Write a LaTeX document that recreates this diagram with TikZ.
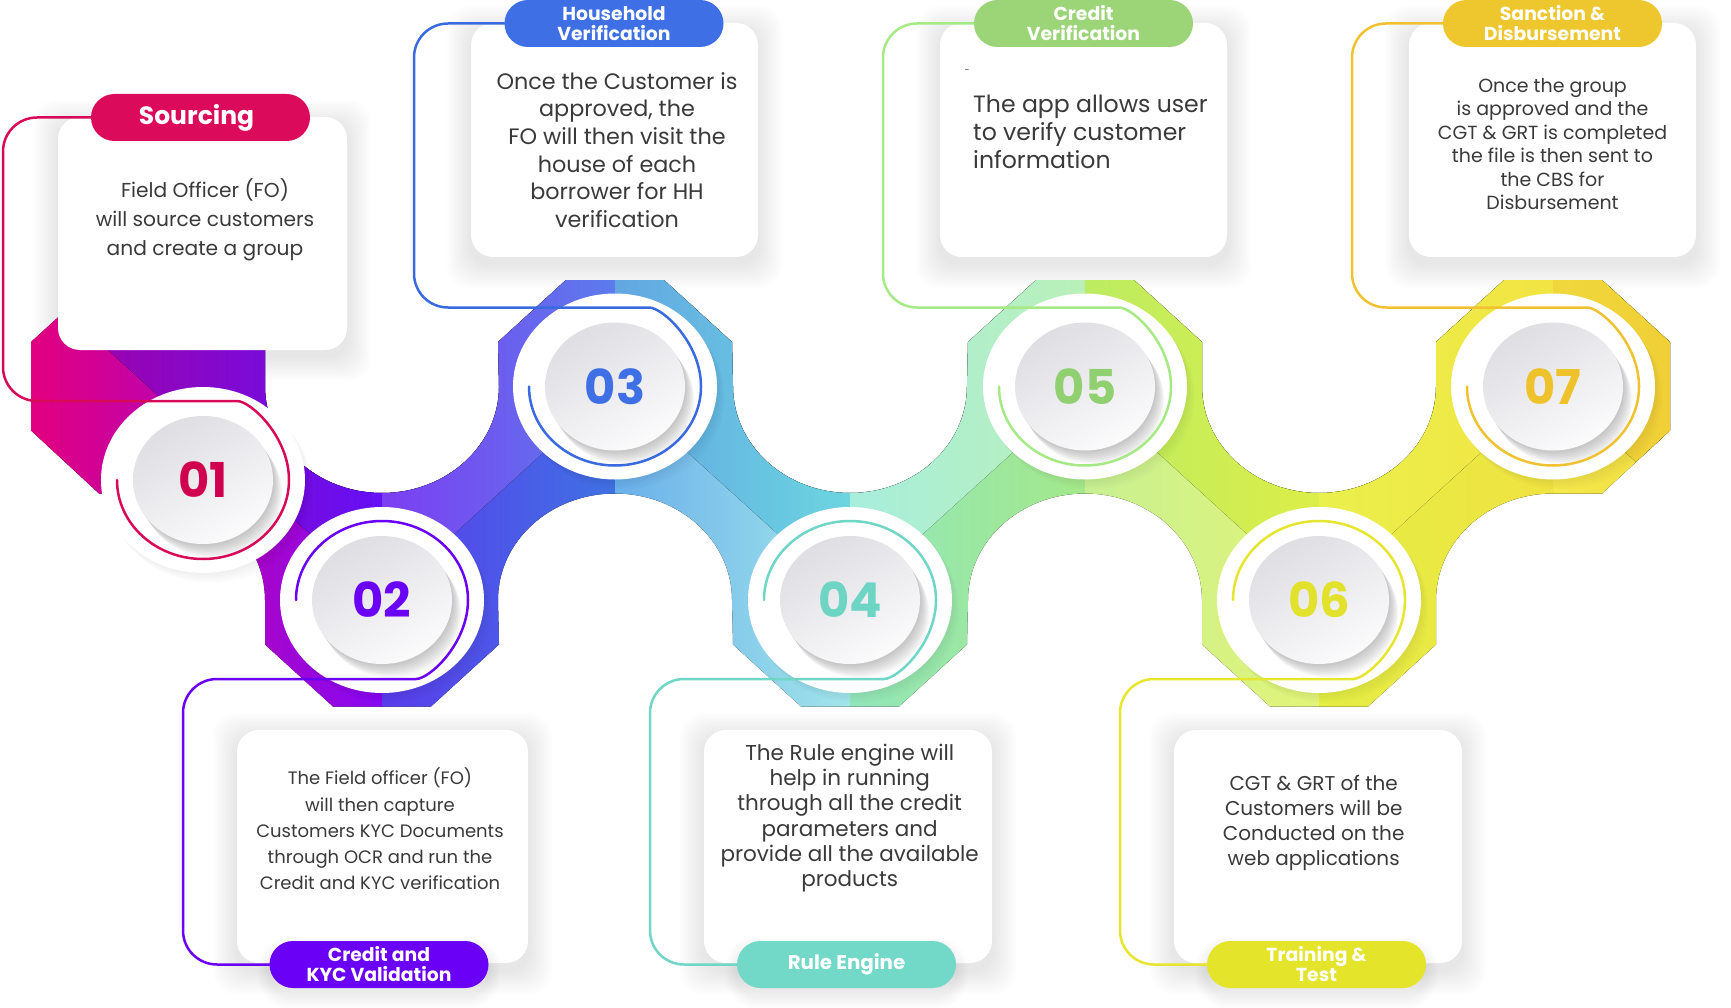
\documentclass[tikz,border=0pt]{standalone}
\usepackage{fontspec}
\setmainfont{Poppins}
\usetikzlibrary{shapes.geometric,calc}

\definecolor{ink}{HTML}{3A3A3A}
\definecolor{discA}{HTML}{DEDEE3}
\definecolor{discB}{HTML}{FBFBFC}
% step colours: pills, connector lines, numbers
\definecolor{cA}{HTML}{DC0A5A}\definecolor{lA}{HTML}{D80A58}\definecolor{nA}{HTML}{D1004E}
\definecolor{cB}{HTML}{6A00F5}\definecolor{lB}{HTML}{6A00F5}\definecolor{nB}{HTML}{6A00F5}
\definecolor{cC}{HTML}{3F6FE4}\definecolor{lC}{HTML}{3A6AE0}\definecolor{nC}{HTML}{3F6FE4}
\definecolor{cD}{HTML}{72D8C8}\definecolor{lD}{HTML}{70D6C6}\definecolor{nD}{HTML}{6ED4C4}
\definecolor{cE}{HTML}{9CD478}\definecolor{lE}{HTML}{A6EA86}\definecolor{nE}{HTML}{90D070}
\definecolor{cF}{HTML}{E4E42A}\definecolor{lF}{HTML}{E6E630}\definecolor{nF}{HTML}{E2E22C}
\definecolor{cG}{HTML}{EEC72E}\definecolor{lG}{HTML}{F0C232}\definecolor{nG}{HTML}{EEC22A}
% ribbon panel colours (u = above the fold line, d = below; L/M/R = left/middle/right)
\definecolor{u1L}{HTML}{A6009E}\definecolor{u1R}{HTML}{6410F6}
\definecolor{d1L}{HTML}{E2007F}\definecolor{d1M}{HTML}{A000DC}\definecolor{d1R}{HTML}{8608F4}
\definecolor{u2L}{HTML}{7C3EF2}\definecolor{u2R}{HTML}{5C7CEC}
\definecolor{d2L}{HTML}{5A3CEC}\definecolor{d2R}{HTML}{3F72E3}
\definecolor{u3L}{HTML}{62A6E2}\definecolor{u3R}{HTML}{6CD6E0}
\definecolor{d3L}{HTML}{6AB0EA}\definecolor{d3R}{HTML}{A2E6EA}
\definecolor{u4L}{HTML}{A8EEDD}\definecolor{u4R}{HTML}{BAF0B8}
\definecolor{d4L}{HTML}{92E6BC}\definecolor{d4R}{HTML}{A4E88A}
\definecolor{u5L}{HTML}{BCEC62}\definecolor{u5R}{HTML}{DCEE48}
\definecolor{d5L}{HTML}{C8F092}\definecolor{d5R}{HTML}{E2F478}
\definecolor{u6L}{HTML}{EAF04C}\definecolor{u6R}{HTML}{F2E442}
\definecolor{d6L}{HTML}{E4EE44}\definecolor{d6R}{HTML}{F0E242}
\definecolor{u7L}{HTML}{F0D83C}\definecolor{u7R}{HTML}{F0CE36}
\definecolor{d7L}{HTML}{F4E84C}\definecolor{d7R}{HTML}{F2DC40}

\pgfdeclarelayer{base}
\pgfdeclarelayer{mid}
\pgfdeclarelayer{wire}
\pgfsetlayers{base,mid,wire,main}

% soft shadow under a card: centre x, centre y, width, height
\newcommand\cardshade[4]{%
  \foreach \s in {1,...,12}{%
    \fill[black,opacity=0.0065,rounded corners=22]
      ({#1-#3/2-2*\s},{#2-#4/2-2*\s+7}) rectangle ({#1+#3/2+2*\s},{#2+#4/2+2*\s+7});}}
% shadow cast by a number disc
\newcommand\discshade[2]{%
  \foreach \s in {1,...,7}{%
    \fill[black!60,opacity=0.06] ({#1+1.3*\s},{#2+1.9*\s}) ellipse [x radius=70, y radius=64];}}
% faint shadow round a white ring
\newcommand\ringshade[2]{%
  \foreach \s in {1,...,5}{%
    \fill[black,opacity=0.01] ({#1+1.5*\s},{#2+2*\s}) ellipse [x radius=102, y radius=93];}}
% one panel of the ribbon below the fold line (full strip) : x0, x1, left colour, right colour
\newcommand\lowpanel[4]{\fill[left color=#3, right color=#4] (#1,250) rectangle ({#2+1},730);}

\begin{document}
\begin{tikzpicture}[x=1pt,y=-1pt,
  pill/.style={rectangle, rounded corners=23.5, minimum width=219, minimum height=47,
    inner sep=0, text=white, align=center, font=\fontsize{18.8}{20}\selectfont\bfseries},
  card/.style={rectangle, rounded corners=22, fill=white, inner sep=0},
  disc/.style={ellipse, minimum width=140, minimum height=128, inner sep=0,
    top color=discA, bottom color=discB, shading angle=30,
    font=\fontsize{48}{48}\selectfont\bfseries},
  ring/.style={fill=white},
  body/.style={text=ink, align=center, inner sep=0},
  brk/.style={line width=2.5pt, line cap=round},
]
\useasboundingbox (0,0) rectangle (1731,1008);

\begin{pgfonlayer}{base}
\fill[white] (0,0) rectangle (1731,1008);
% card shadows
\cardshade{202.5}{233.5}{289}{233}
\cardshade{614.5}{140}{287}{234}
\cardshade{1083.5}{140}{287}{234}
\cardshade{1552.5}{140}{287}{234}
\cardshade{382.5}{846.5}{291}{233}
\cardshade{848}{846.5}{288}{233}
\cardshade{1318}{846.5}{288}{233}

% the folded ribbon: octagon ends and round bays
\begin{scope}
\clip (31,386.5) -- (31,342) -- (99,280) -- (197,280) -- (265,342) -- (265,386.5)
  arc [start angle=180, end angle=0, x radius=117, y radius=106.5]
  -- (498,342) -- (566,280) -- (664,280) -- (732,342) -- (733,386.5)
  arc [start angle=180, end angle=0, x radius=117, y radius=106.5]
  -- (968,342) -- (1036,280) -- (1134,280) -- (1202,342) -- (1202,386.5)
  arc [start angle=180, end angle=0, x radius=117, y radius=106.5]
  -- (1436,342) -- (1504,280) -- (1602,280) -- (1670,342) -- (1670,430.5)
  -- (1602,493.5) -- (1553,493.5)
  arc [start angle=-90, end angle=-180, x radius=117, y radius=106.5]
  -- (1436,644.5) -- (1368,706.5) -- (1270,706.5) -- (1202,644.5) -- (1202,600)
  arc [start angle=0, end angle=-180, x radius=117, y radius=106.5]
  -- (967,644.5) -- (899,706.5) -- (801,706.5) -- (733,644.5) -- (732,600)
  arc [start angle=0, end angle=-180, x radius=117, y radius=106.5]
  -- (499,644.5) -- (431,706.5) -- (333,706.5) -- (265,644.5) -- (265,600)
  arc [start angle=0, end angle=-90, x radius=117, y radius=106.5]
  -- (99,493.5) -- (31,430.5) -- cycle;
% lower fold panels (full strips)
\fill[left color=d1L, middle color=d1M, right color=d1R] (31,250) rectangle (383,730);
\lowpanel{382}{615}{d2L}{d2R}
\lowpanel{615}{850}{d3L}{d3R}
\lowpanel{850}{1085}{d4L}{d4R}
\lowpanel{1085}{1319}{d5L}{d5R}
\lowpanel{1319}{1553}{d6L}{d6R}
\lowpanel{1553}{1680}{d7L}{d7R}
% upper fold panels, above the line joining neighbouring steps
\fill[left color=u1L, right color=u1R] (31,250) -- (382.5,250) -- (382.5,600) -- (31,279.8) -- cycle;
\fill[left color=u2L, right color=u2R] (382,250) -- (615.5,250) -- (615.5,386.5) -- (382,600) -- cycle;
\fill[left color=u3L, right color=u3R] (615,250) -- (850.5,250) -- (850.5,600) -- (615,386.5) -- cycle;
\fill[left color=u4L, right color=u4R] (850,250) -- (1085.5,250) -- (1085.5,386.5) -- (850,600) -- cycle;
\fill[left color=u5L, right color=u5R] (1085,250) -- (1319.5,250) -- (1319.5,600) -- (1085,386.5) -- cycle;
\fill[left color=u6L, right color=u6R] (1319,250) -- (1553.5,250) -- (1553.5,386.5) -- (1319,600) -- cycle;
\fill[left color=u7L, right color=u7R] (1553,250) -- (1680,250) -- (1680,502) -- (1553,386.5) -- cycle;
\end{scope}
\end{pgfonlayer}

\begin{pgfonlayer}{mid}
% white rings and number discs
\foreach \cx/\cy in {203/480,382/600,615/386.5,850/600,1085/386.5,1319/600,1553/386.5}{%
  \ringshade{\cx}{\cy}
  \fill[ring] (\cx,\cy) ellipse [x radius=102, y radius=93];
  \discshade{\cx}{\cy}}
\node[disc, text=nA] (n1) at (203,480) {01};
\node[disc, text=nB] (n2) at (382,600) {02};
\node[disc, text=nC] (n3) at (615,386.5) {03};
\node[disc, text=nD] (n4) at (850,600) {04};
\node[disc, text=nE] (n5) at (1085,386.5) {05};
\node[disc, text=nF] (n6) at (1319,600) {06};
\node[disc, text=nG] (n7) at (1553,386.5) {07};

% text cards
\node[card, minimum width=289, minimum height=233] (k1) at (202.5,233.5) {};
\node[card, minimum width=287, minimum height=234] (k3) at (614.5,140) {};
\node[card, minimum width=287, minimum height=234] (k5) at (1083.5,140) {};
\node[card, minimum width=287, minimum height=234] (k7) at (1552.5,140) {};
\node[card, minimum width=291, minimum height=233] (k2) at (382.5,846.5) {};
\node[card, minimum width=288, minimum height=233] (k4) at (848,846.5) {};
\node[card, minimum width=288, minimum height=233] (k6) at (1318,846.5) {};

\node[body, font=\fontsize{20.2}{29}\selectfont] (t1) at (205,220)
  {Field Officer (FO)\\will source customers\\and create a group};
\node[body, font=\fontsize{22.3}{27.7}\selectfont] (t3) at (617,150)
  {Once the Customer is\\approved, the\\FO will then visit the\\house of each\\borrower for HH\\verification};
\node[body, align=left, anchor=north west, font=\fontsize{23.6}{28}\selectfont] (t5) at (973,95)
  {The app allows user\\to verify customer\\information};
\node[text=ink, inner sep=0, font=\fontsize{9}{9}\selectfont] (m5) at (967,72) {-};
\node[body, font=\fontsize{19}{23.5}\selectfont] (t7) at (1552.5,144)
  {Once the group\\is approved and the\\CGT \& GRT is completed\\the file is then sent to\\the CBS for\\Disbursement};
\node[body, font=\fontsize{18}{26.2}\selectfont] (t2) at (380,829)
  {The Field officer (FO)\\will then capture\\Customers KYC Documents\\through OCR and run the\\Credit and KYC verification};
\node[body, font=\fontsize{21.5}{25.3}\selectfont] (t4) at (849.7,818)
  {The Rule engine will\\help in running\\through all the credit\\parameters and\\provide all the available\\products};
\node[body, font=\fontsize{20}{25}\selectfont] (t6) at (1313.7,823)
  {CGT \& GRT of the\\Customers will be\\Conducted on the\\web applications};

% pill shadows (lower row)
\foreach \px in {379,846.5,1316.5}{%
  \foreach \s in {1,...,8}{%
    \fill[black,opacity=0.008,rounded corners=23.5+\s]
      ({\px-109.5-1.5*\s},{941-1.5*\s+8}) rectangle ({\px+109.5+1.5*\s},{988+1.5*\s+8});}}
\end{pgfonlayer}

% step titles
\node[pill, fill=cA, font=\fontsize{25}{25}\selectfont\bfseries] (p1) at (200.5,117.5) {\kern-8pt Sourcing};
\node[pill, fill=cC] (p3) at (614,23.5) {Household\\Verification};
\node[pill, fill=cE] (p5) at (1083.5,23.5) {Credit\\Verification};
\node[pill, fill=cG] (p7) at (1552.5,23.5) {Sanction \&\\Disbursement};
\node[pill, fill=cB] (p2) at (379,964.5) {Credit and\\KYC Validation};
\node[pill, fill=cD, font=\fontsize{19.8}{20}\selectfont\bfseries] (p4) at (846.5,964.5) {Rule Engine};
\node[pill, fill=cF] (p6) at (1316.5,964.5) {Training \&\\Test};

% connectors from each title round its number
\begin{pgfonlayer}{wire}
\draw[brk, draw=lA] (p1.west) [rounded corners=34] -| ($(n1)+(-200,-79)$) -- ($(n1)+(0,-79)$)
  [sharp corners] arc [start angle=-90, end angle=180, x radius=86, y radius=79];
\draw[brk, draw=lC] (p3.west) [rounded corners=34] -| ($(n3)+(-201,-79)$) -- ($(n3)+(0,-79)$)
  [sharp corners] arc [start angle=-90, end angle=180, x radius=86, y radius=79];
\draw[brk, draw=lE] (p5.west) [rounded corners=34] -| ($(n5)+(-202,-79)$) -- ($(n5)+(0,-79)$)
  [sharp corners] arc [start angle=-90, end angle=180, x radius=86, y radius=79];
\draw[brk, draw=lG] (p7.west) [rounded corners=34] -| ($(n7)+(-201,-79)$) -- ($(n7)+(0,-79)$)
  [sharp corners] arc [start angle=-90, end angle=180, x radius=86, y radius=79];
\draw[brk, draw=lB] (p2.west) [rounded corners=34] -| ($(n2)+(-199,79)$) -- ($(n2)+(0,79)$)
  [sharp corners] arc [start angle=90, end angle=-180, x radius=86, y radius=79];
\draw[brk, draw=lD] (p4.west) [rounded corners=34] -| ($(n4)+(-200,79)$) -- ($(n4)+(0,79)$)
  [sharp corners] arc [start angle=90, end angle=-180, x radius=86, y radius=79];
\draw[brk, draw=lF] (p6.west) [rounded corners=34] -| ($(n6)+(-199,79)$) -- ($(n6)+(0,79)$)
  [sharp corners] arc [start angle=90, end angle=-180, x radius=86, y radius=79];
\end{pgfonlayer}
\end{tikzpicture}
\end{document}
